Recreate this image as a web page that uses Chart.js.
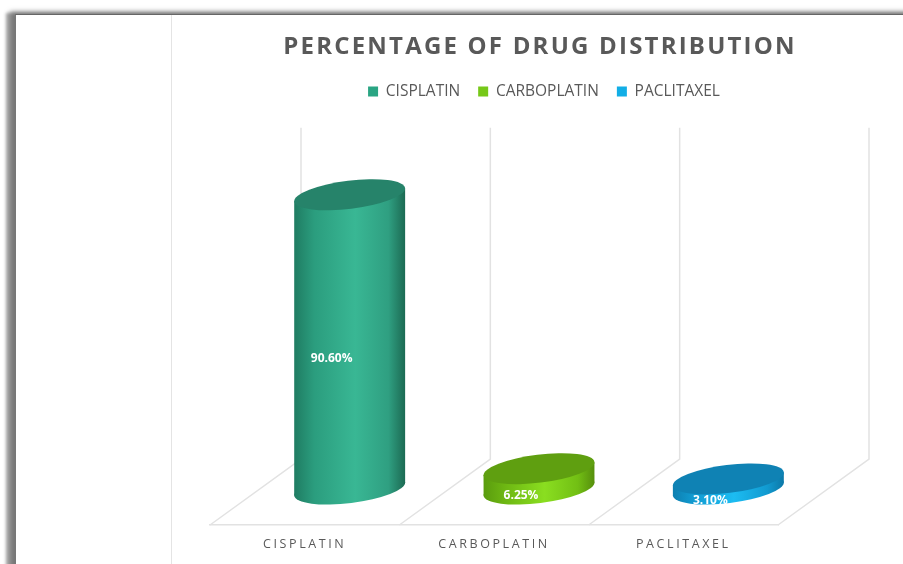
<!DOCTYPE html>
<html>
<head>
<meta charset="utf-8">
<script src="https://cdn.jsdelivr.net/npm/chart.js@4"></script>
<style>
    body { margin: 0; background: #fff; overflow: hidden; }
    #frame { position: absolute; left: 15px; top: 14px; width: 1000px; height: 700px; background: #fff; border-top: 1px solid #666; border-left: 1px solid #777; box-shadow: -5px -2px 5px #777, -9px -1px 3px #aaa; }
    #edge { position: absolute; left: 171px; top: 15px; width: 1px; height: 560px; background: #e4e4e4; }
    #drugChart { position: absolute; left: 0; top: 0; }
</style>
</head>
<body>
<div id="frame"></div>
<div id="edge"></div>
<canvas id="drugChart" width="903" height="564"></canvas>
<script>
const categories = ['CISPLATIN', 'CARBOPLATIN', 'PACLITAXEL'];
const cisplatinValues = [90.6, null, null];
const carboplatinValues = [null, 6.25, null];
const paclitaxelValues = [null, null, 3.1];
const wallValue = 102;

// side gradient stops + lid colour for each drug
const cylinderColors = [
    { side: ['#1f7c62', '#2b9d7e', '#39b794', '#2f9f81', '#1c6a53'], lid: '#26836a' },
    { side: ['#5a9c0e', '#6cb512', '#8ade20', '#72bf14', '#568f0c'], lid: '#5f9f10' },
    { side: ['#0d7fb0', '#119ad0', '#1cbcf2', '#119ad0', '#0c78a8'], lid: '#0f82b4' }
];

const tilt = -7 * Math.PI / 180;
const lidHeight = 14;
const depthX = 45, depthY = 36;

function drawCylinder(ctx, cx, topY, baseY, rx, colors) {
    let t = Math.atan(-lidHeight * Math.sin(tilt) / (rx * Math.cos(tilt)));
    let edgeX = rx * Math.cos(t) * Math.cos(tilt) - lidHeight * Math.sin(t) * Math.sin(tilt);
    let edgeY = rx * Math.cos(t) * Math.sin(tilt) + lidHeight * Math.sin(t) * Math.cos(tilt);

    let grad = ctx.createLinearGradient(cx - edgeX, 0, cx + edgeX, 0);
    [0, 0.18, 0.55, 0.85, 1].forEach(function (stop, i) { grad.addColorStop(stop, colors.side[i]); });

    ctx.fillStyle = grad;
    ctx.beginPath();
    ctx.ellipse(cx, baseY, rx, lidHeight, tilt, 0, Math.PI * 2);
    ctx.fill();
    ctx.beginPath();
    ctx.moveTo(cx - edgeX, topY - edgeY);
    ctx.lineTo(cx + edgeX, topY + edgeY);
    ctx.lineTo(cx + edgeX, baseY + edgeY);
    ctx.lineTo(cx - edgeX, baseY - edgeY);
    ctx.closePath();
    ctx.fill();

    ctx.fillStyle = colors.lid;
    ctx.beginPath();
    ctx.ellipse(cx, topY, rx, lidHeight, tilt, 0, Math.PI * 2);
    ctx.fill();
}

const cylinderPlugin = {
    id: 'cylinders',
    beforeDraw: function (chart) {
        // letter spacing is only wanted on the title and the category labels
        if (!chart.$spaced) {
            chart.$spaced = true;
            const title = chart.titleBlock;
            const titleDraw = title.draw;
            title.draw = function () {
                this.ctx.save();
                this.ctx.letterSpacing = '2.2px';
                titleDraw.call(this);
                this.ctx.restore();
            };
            const xScale = chart.scales.x;
            const labelDraw = xScale.drawLabels;
            xScale.drawLabels = function (area) {
                this.ctx.save();
                this.ctx.letterSpacing = '2.6px';
                labelDraw.call(this, area);
                this.ctx.restore();
            };
        }
    },
    afterLayout: function (chart) {
        // title and legend sit off centre in the original
        chart.titleBlock.left += 46;
        chart.titleBlock.right += 46;
        chart.legend.left += 50;
        chart.legend.right += 50;
    },
    beforeDatasetsDraw: function (chart) {
        const ctx = chart.ctx;
        const x = chart.scales.x, y = chart.scales.y;
        const step = x.width / categories.length;
        const wallTop = y.getPixelForValue(wallValue) - 66;
        ctx.save();
        ctx.strokeStyle = '#e2e2e2';
        ctx.lineWidth = 1.5;
        for (let i = 0; i <= categories.length; i++) {
            let fx = x.left + i * step;
            ctx.beginPath();
            ctx.moveTo(fx, y.bottom);
            ctx.lineTo(fx + 91, y.bottom - 66);
            ctx.lineTo(fx + 91, wallTop);
            ctx.stroke();
        }
        ctx.restore();
    },
    beforeDatasetDraw: function (chart, args) {
        const ctx = chart.ctx;
        const i = args.index;
        const bar = args.meta.data[i];
        const cx = bar.x + depthX;
        const topY = bar.y - depthY, baseY = bar.base - depthY;
        ctx.save();
        drawCylinder(ctx, cx, topY, baseY, bar.width / 2, cylinderColors[i]);
        ctx.fillStyle = '#fff';
        ctx.font = "bold 12px 'Open Sans', sans-serif";
        ctx.textAlign = 'center';
        ctx.textBaseline = 'middle';
        let value = chart.data.datasets[i].data[i];
        ctx.fillText(value.toFixed(2) + '%', cx - 18, (topY + baseY) / 2 + 17);
        ctx.restore();
        return false;
    }
};

new Chart(document.getElementById('drugChart'), {
    type: 'bar',
    data: {
        labels: categories,
        datasets: [
            { label: 'CISPLATIN', data: cisplatinValues, backgroundColor: '#2aa583' },
            { label: 'CARBOPLATIN', data: carboplatinValues, backgroundColor: '#76c818' },
            { label: 'PACLITAXEL', data: paclitaxelValues, backgroundColor: '#12aee6' }
        ]
    },
    options: {
        responsive: false,
        animation: false,
        barPercentage: 0.59,
        categoryPercentage: 1,
        layout: { padding: { left: 210, right: 125, bottom: 8 } },
        plugins: {
            tooltip: { enabled: false },
            title: {
                display: true,
                text: 'PERCENTAGE OF DRUG DISTRIBUTION',
                color: '#595959',
                font: { family: "'Open Sans', sans-serif", size: 24, weight: 'bold' },
                padding: { top: 33, bottom: 4 }
            },
            legend: {
                position: 'top',
                labels: {
                    color: '#595959',
                    boxWidth: 10,
                    boxHeight: 10,
                    padding: 18,
                    font: { family: "'Open Sans', sans-serif", size: 15.5 }
                }
            }
        },
        scales: {
            x: {
                stacked: true,
                grid: { display: false },
                border: { color: '#e2e2e2', width: 1.5 },
                ticks: {
                    color: '#595959',
                    padding: 4,
                    autoSkip: false,
                    maxRotation: 0,
                    font: { family: "'Open Sans', sans-serif", size: 12.5 }
                }
            },
            y: { display: false, min: 0, max: 128 }
        }
    },
    plugins: [cylinderPlugin]
});
</script>
</body>
</html>
